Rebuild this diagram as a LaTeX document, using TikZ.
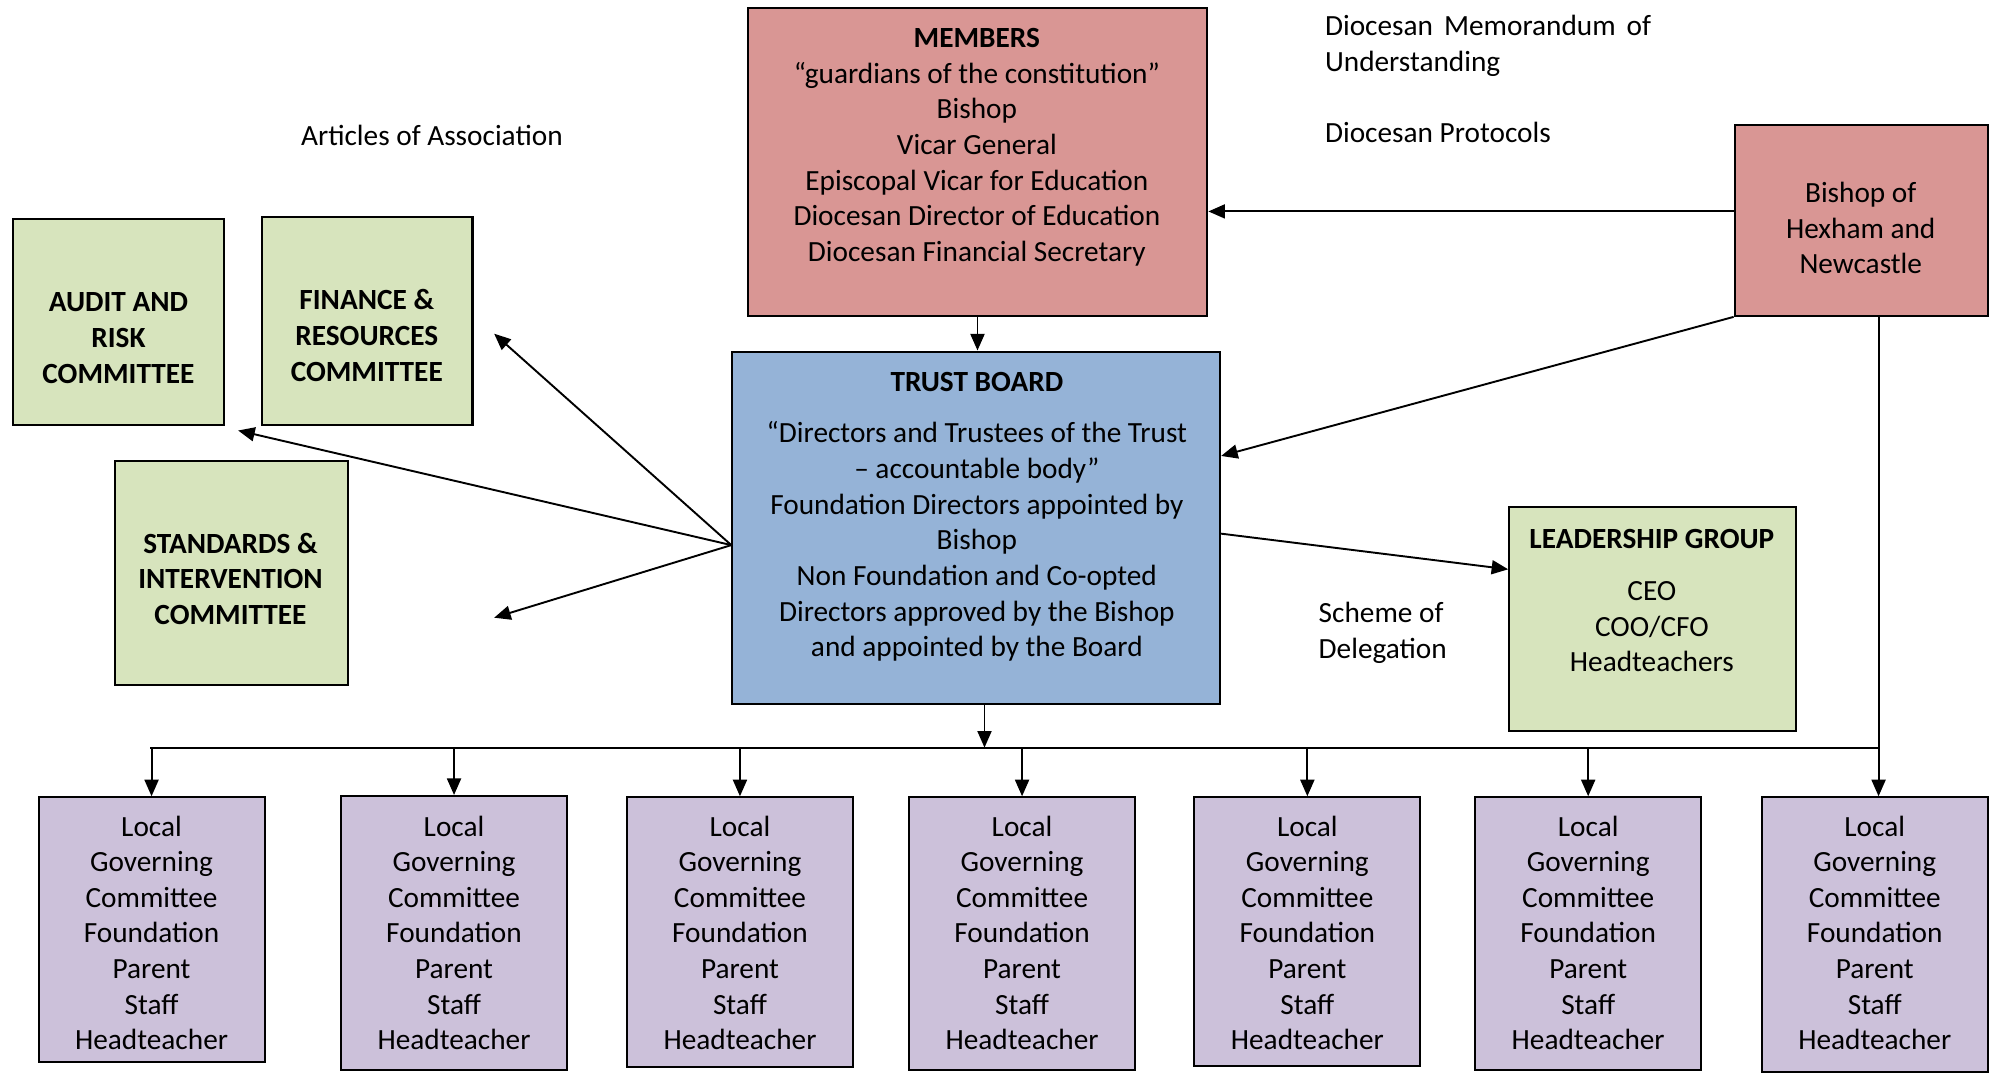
\documentclass[tikz,border=0pt]{standalone}
\usepackage{fontspec}
\setmainfont{Carlito}
\usetikzlibrary{arrows.meta,calc}
\definecolor{pinkfill}{HTML}{D99694}
\definecolor{bluefill}{HTML}{95B3D7}
\definecolor{greenfill}{HTML}{D7E4BD}
\definecolor{purplefill}{HTML}{CCC1DA}
\begin{document}
\begin{tikzpicture}[x=0.5pt,y=-0.5pt,
  font=\fontsize{11.5}{14}\selectfont,
  box/.style={draw=black, line width=0.8pt, inner sep=0pt},
  txt/.style={inner sep=0pt, align=center},
  lbl/.style={inner sep=0pt},
  conn/.style={line width=0.75pt, -{Triangle[length=6.5pt,width=5.5pt]}},
  plainline/.style={line width=0.75pt},
  lgc/.style={box, fill=purplefill, minimum width=88.75pt}
]
\useasboundingbox (0,0) rectangle (1568,842);

% top boxes
\node[box, fill=pinkfill, minimum width=180.5pt, minimum height=121pt] (members) at (767.5,127) {};
\node[txt] (memberstxt) at (767,115.5) {\textbf{MEMBERS}\\“guardians of the constitution”\\Bishop\\Vicar General\\Episcopal Vicar for Education\\Diocesan Director of Education\\Diocesan Financial Secretary};

\node[box, fill=bluefill, minimum width=191.5pt, minimum height=138.5pt] (trust) at (766.5,414.5) {};
\node[txt] (trusttxt) at (767,406) {\textbf{TRUST BOARD}\\[6pt]“Directors and Trustees of the Trust\\– accountable body”\\Foundation Directors appointed by\\Bishop\\Non Foundation and Co-opted\\Directors approved by the Bishop\\and appointed by the Board};

\node[box, fill=pinkfill, minimum width=99.5pt, minimum height=75pt] (bishop) at (1461.5,173) {};
\node[txt] (bishoptxt) at (1461,179) {Bishop of\\Hexham and\\Newcastle};

\node[box, fill=greenfill, minimum width=83pt, minimum height=81pt] (audit) at (93,253) {};
\node[txt, font=\fontsize{11.5}{14}\selectfont\bfseries] (audittxt) at (93,265.5) {AUDIT AND\\RISK\\COMMITTEE};

\node[box, fill=greenfill, minimum width=82.5pt, minimum height=82pt] (finance) at (288.5,252) {};
\node[txt, font=\fontsize{11.5}{14}\selectfont\bfseries] (financetxt) at (288,263.5) {FINANCE \&\\RESOURCES\\COMMITTEE};

\node[box, fill=greenfill, minimum width=91.5pt, minimum height=88pt] (standards) at (181.5,450) {};
\node[txt, font=\fontsize{11.5}{14}\selectfont\bfseries] (standardstxt) at (181,454.5) {STANDARDS \&\\INTERVENTION\\COMMITTEE};

\node[box, fill=greenfill, minimum width=112.5pt, minimum height=88pt] (lead) at (1297.5,486) {};
\node[txt] (leadtxt) at (1297,471.5) {\textbf{LEADERSHIP GROUP}\\[6.5pt]CEO\\COO/CFO\\Headteachers};

% local governing committees
\node[lgc, minimum height=104pt] (lgc1) at (119,730) {};
\node[lgc, minimum height=107.5pt] (lgc2) at (356.5,732.5) {};
\node[lgc, minimum height=106pt] (lgc3) at (581,732) {};
\node[lgc, minimum height=107pt] (lgc4) at (802.5,733) {};
\node[lgc, minimum height=105.5pt] (lgc5) at (1026.5,731.5) {};
\node[lgc, minimum height=107pt] (lgc6) at (1247,733) {};
\node[lgc, minimum height=108pt] (lgc7) at (1472,734) {};
\foreach \i/\cx in {1/119,2/356.5,3/581,4/802.5,5/1026.5,6/1247,7/1472}{
  \node[txt] (lgctxt\i) at (\cx,732.5) {Local\\Governing\\Committee\\Foundation\\Parent\\Staff\\Headteacher};
}

% free labels
\node[lbl, anchor=base west] (articles) at (236,114) {Articles of Association};
\node[lbl, anchor=west, align=left] (mou) at (1040,36) {\makebox[128pt][s]{Diocesan Memorandum of}\\Understanding};
\node[lbl, anchor=base west] (protocols) at (1040,112) {Diocesan Protocols};
\node[lbl, anchor=west, align=left] (scheme) at (1035,497) {Scheme of\\Delegation};

% connectors
\draw[conn] (members.south) -- (members.south |- trust.north);
\draw[conn] ([yshift=3.5pt]bishop.west) coordinate (bw) -- (bw -| members.east);
\draw[conn] (bishop.south west) -- ([yshift=28.25pt]trust.east);
\draw[conn] ([yshift=-2.25pt]trust.east) -- ([yshift=19.5pt]lead.west);

\coordinate (tl) at ([yshift=-6.75pt]trust.west);
\coordinate (finarrow) at (388,262);
\coordinate (audarrow) at (187,338);
\coordinate (stdarrow) at (388,485);
\draw[conn] (tl) -- (finarrow);
\draw[conn] (tl) -- (audarrow);
\draw[conn] (tl) -- (stdarrow);

\coordinate (busL) at (118,587);
\coordinate (busR) at (1475,587);
\draw[plainline] (busL) -- (busR);
\draw[conn] ([xshift=3.25pt]trust.south) coordinate (ts) -- (ts |- busL);
\draw[conn] ([xshift=6.75pt]bishop.south) coordinate (bs) -- (bs |- lgc7.north);
\foreach \i in {1,...,6}{
  \draw[conn] (lgc\i.north |- busL) -- (lgc\i.north);
}
\end{tikzpicture}
\end{document}
